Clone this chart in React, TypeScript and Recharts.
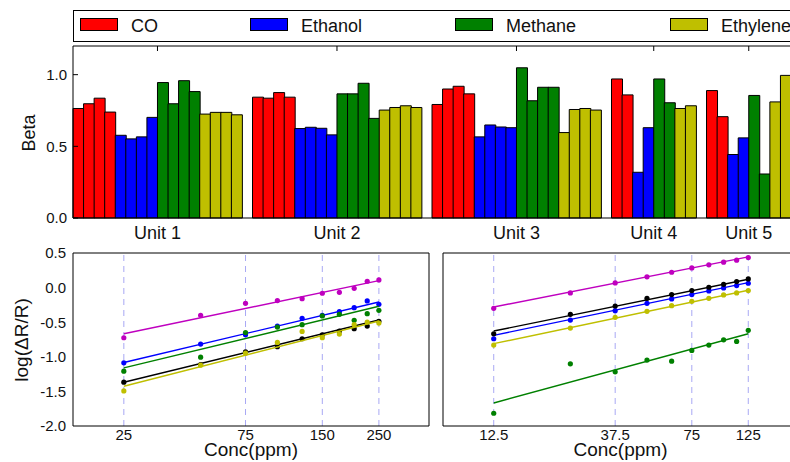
import React from 'react';
import { BarChart, Bar, Cell, XAxis, YAxis, ReferenceLine, ScatterChart, Scatter } from 'recharts';

const FONT = '"Liberation Sans", Arial, sans-serif';

const gases = ['CO', 'Ethanol', 'Methane', 'Ethylene'];
const gasColors = ['#ff0000', '#0000ff', '#008000', '#bfbf00'];
const units = ['Unit 1', 'Unit 2', 'Unit 3', 'Unit 4', 'Unit 5'];

// beta values, one inner list per unit
const betaCO = [[0.764, 0.797, 0.836, 0.739], [0.843, 0.836, 0.875, 0.843], [0.792, 0.9, 0.919, 0.866], [0.97, 0.859], [0.889, 0.707]];
const betaEthanol = [[0.577, 0.552, 0.566, 0.702], [0.624, 0.633, 0.626, 0.58], [0.566, 0.649, 0.635, 0.63], [0.319, 0.63], [0.443, 0.559]];
const betaMethane = [[0.945, 0.797, 0.958, 0.882], [0.866, 0.866, 0.94, 0.695], [1.048, 0.818, 0.912, 0.912], [0.97, 0.804], [0.855, 0.307]];
const betaEthylene = [[0.725, 0.737, 0.737, 0.72], [0.753, 0.771, 0.783, 0.771], [0.596, 0.757, 0.764, 0.753], [0.764, 0.783], [0.81, 0.995]];
const betaTicks = [0, 0.5, 1.0];

// log(dR/R) vs concentration, left panel
const leftConc = [25, 50, 75, 100, 125, 150, 175, 200, 225, 250];
const leftTicks = [25, 75, 150, 250];
const leftMagenta = [-0.725, -0.4, -0.227, -0.188, -0.16, -0.082, -0.068, -0.01, 0.092, 0.111];
const leftBlue = [-1.087, -0.816, -0.68, -0.556, -0.444, -0.4, -0.348, -0.29, -0.193, -0.242];
const leftGreen = [-1.208, -1.005, -0.65, -0.57, -0.536, -0.41, -0.386, -0.473, -0.377, -0.328];
const leftBlack = [-1.367, -1.111, -0.928, -0.855, -0.739, -0.681, -0.628, -0.594, -0.556, -0.488];
const leftYellow = [-1.493, -1.121, -0.947, -0.792, -0.633, -0.725, -0.671, -0.536, -0.498, -0.512];
const leftFitMagenta = [-0.667, 0.1];
const leftFitBlue = [-1.082, -0.208];
const leftFitGreen = [-1.16, -0.27];
const leftFitBlack = [-1.367, -0.469];
const leftFitYellow = [-1.425, -0.483];

// right panel
const rightConc = [12.5, 25, 37.5, 50, 62.5, 75, 87.5, 100, 112.5, 125];
const rightTicks = [12.5, 37.5, 75, 125];
const rightMagenta = [-0.3, -0.077, 0.068, 0.155, 0.222, 0.285, 0.329, 0.367, 0.396, 0.435];
const rightBlack = [-0.667, -0.386, -0.266, -0.155, -0.101, -0.043, 0.005, 0.048, 0.087, 0.126];
const rightBlue = [-0.739, -0.469, -0.333, -0.227, -0.164, -0.101, -0.048, -0.005, 0.029, 0.063];
const rightYellow = [-0.831, -0.585, -0.43, -0.343, -0.261, -0.198, -0.155, -0.106, -0.077, -0.043];
const rightGreen = [-1.816, -1.101, -1.217, -1.048, -1.063, -0.908, -0.831, -0.754, -0.778, -0.618];
const rightFitMagenta = [-0.28, 0.444];
const rightFitBlack = [-0.628, 0.121];
const rightFitBlue = [-0.69, 0.072];
const rightFitYellow = [-0.81, -0.039];
const rightFitGreen = [-1.667, -0.667];

const logTicks = [-2, -1.5, -1, -0.5, 0, 0.5];

// build bar slots (one empty slot between units)
const gasBeta = [betaCO, betaEthanol, betaMethane, betaEthylene];
const slots: { id: string; beta: number | null; fill: string }[] = [];
const unitTickIds: string[] = [];
const unitLabels: Record<string, string> = {};
units.forEach((u, ui) => {
  if (ui > 0) slots.push({ id: `gap${ui}`, beta: null, fill: 'none' });
  const first = slots.length;
  gasBeta.forEach((g, gi) =>
    g[ui].forEach((v, k) => slots.push({ id: `${ui}-${gi}-${k}`, beta: v, fill: gasColors[gi] }))
  );
  const mid = slots[first + (slots.length - first) / 2].id;
  unitTickIds.push(mid);
  unitLabels[mid] = u;
});

const BAR_PLOT_H = 172;

const UnitTick = (props: any) => {
  const { x, y, payload } = props;
  const bx = x - (payload.offset || 5.28);
  return (
    <g>
      <line x1={bx} x2={bx} y1={y - BAR_PLOT_H} y2={y - BAR_PLOT_H + 5} stroke="#000" />
      <text x={bx} y={y + 21} textAnchor="middle" fontSize={18} fontFamily={FONT} fill="#111">
        {unitLabels[payload.value]}
      </text>
    </g>
  );
};

const BetaTick = (props: any) => {
  const { x, y, payload } = props;
  return (
    <g>
      <line x1={x} x2={x + 5} y1={y} y2={y} stroke="#000" />
      <text x={x - 6} y={y} dy="0.36em" textAnchor="end" fontSize={15} fontFamily={FONT} fill="#111">
        {Number(payload.value).toFixed(1)}
      </text>
    </g>
  );
};

const LogTick = (props: any) => {
  const { x, y, payload } = props;
  return (
    <text x={x - 7} y={y} dy="0.36em" textAnchor="end" fontSize={15} fontFamily={FONT} fill="#111">
      {Number(payload.value).toFixed(1)}
    </text>
  );
};

const ConcTick = (props: any) => {
  const { x, y, payload } = props;
  return (
    <text x={x} y={y + 14} textAnchor="middle" fontSize={15} fontFamily={FONT} fill="#111">
      {payload.value}
    </text>
  );
};

const dotShape = (color: string) => (p: any) => <circle cx={p.cx} cy={p.cy} r={2.6} fill={color} />;
const noShape = () => <g />;

type Series = { color: string; values: number[]; fit: number[] };

const leftSeries: Series[] = [
  { color: '#bf00bf', values: leftMagenta, fit: leftFitMagenta },
  { color: '#0000ff', values: leftBlue, fit: leftFitBlue },
  { color: '#008000', values: leftGreen, fit: leftFitGreen },
  { color: '#000000', values: leftBlack, fit: leftFitBlack },
  { color: '#bfbf00', values: leftYellow, fit: leftFitYellow },
];

const rightSeries: Series[] = [
  { color: '#bf00bf', values: rightMagenta, fit: rightFitMagenta },
  { color: '#008000', values: rightGreen, fit: rightFitGreen },
  { color: '#bfbf00', values: rightYellow, fit: rightFitYellow },
  { color: '#0000ff', values: rightBlue, fit: rightFitBlue },
  { color: '#000000', values: rightBlack, fit: rightFitBlack },
];

const DASH = '#a8a8f4';

function renderSeries(series: Series[], conc: number[], prefix: string) {
  const lo = conc[0];
  const hi = conc[conc.length - 1];
  return series.flatMap((s, i) => [
    <Scatter
      key={`${prefix}f${i}`}
      data={[{ x: lo, y: s.fit[0] }, { x: hi, y: s.fit[1] }]}
      line={{ stroke: s.color, strokeWidth: 1.4 }}
      shape={noShape}
      isAnimationActive={false}
    />,
    <Scatter
      key={`${prefix}p${i}`}
      data={conc.map((c, k) => ({ x: c, y: s.values[k] }))}
      shape={dotShape(s.color)}
      isAnimationActive={false}
    />,
  ]);
}

const legendX = [80, 250, 455, 670];

export default function App() {
  return (
    <div style={{ position: 'absolute', left: 0, top: 0, width: 790, height: 462, overflow: 'hidden', background: '#fff', fontFamily: FONT, color: '#111' }}>
      {/* top bar chart */}
      <div style={{ position: 'absolute', left: 0, top: 0 }}>
        <BarChart width={830} height={250} data={slots} margin={{ top: 46, right: 39, bottom: 0, left: 0 }} barCategoryGap={0} barGap={0}>
          <XAxis dataKey="id" ticks={unitTickIds} interval={0} tick={<UnitTick />} tickLine={false} tickSize={0} tickMargin={0} height={32} axisLine={{ stroke: '#000' }} />
          <YAxis domain={[0, 1.2]} ticks={betaTicks} tick={<BetaTick />} tickLine={false} tickSize={0} tickMargin={0} width={73} axisLine={{ stroke: '#000' }} />
          <ReferenceLine y={1.2} stroke="#000" />
          <Bar dataKey="beta" stroke="#000" strokeWidth={1} isAnimationActive={false}>
            {slots.map((s) => (
              <Cell key={s.id} fill={s.fill} />
            ))}
          </Bar>
        </BarChart>
      </div>

      {/* legend */}
      <div style={{ position: 'absolute', left: 73, top: 10, width: 760, height: 32, border: '1px solid #000', boxSizing: 'border-box' }}>
        {gases.map((g, i) => (
          <React.Fragment key={g}>
            <div style={{ position: 'absolute', left: legendX[i] - 74, top: 7, width: 38, height: 13, background: gasColors[i], border: '1px solid #000', boxSizing: 'border-box' }} />
            <div style={{ position: 'absolute', left: legendX[i] - 74 + 51, top: 4, fontSize: 18, lineHeight: '22px', whiteSpace: 'nowrap' }}>{g}</div>
          </React.Fragment>
        ))}
      </div>

      <div style={{ position: 'absolute', left: 29, top: 133, transform: 'translate(-50%, -50%) rotate(-90deg)', fontSize: 18, whiteSpace: 'nowrap' }}>Beta</div>
      <div style={{ position: 'absolute', left: 22, top: 340, transform: 'translate(-50%, -50%) rotate(-90deg)', fontSize: 19, whiteSpace: 'nowrap' }}>log(ΔR/R)</div>

      {/* bottom left */}
      <div style={{ position: 'absolute', left: 0, top: 240 }}>
        <ScatterChart width={440} height={222} margin={{ top: 13, right: 11, bottom: 0, left: 0 }}>
          <XAxis type="number" dataKey="x" scale="log" domain={[15.8, 393]} allowDataOverflow ticks={leftTicks} interval={0} tick={<ConcTick />} tickLine={false} tickSize={0} tickMargin={0} height={36} axisLine={{ stroke: '#000' }}
            label={{ value: 'Conc(ppm)', position: 'insideBottom', offset: 6, fontSize: 19, fontFamily: FONT, fill: '#111' }} />
          <YAxis type="number" dataKey="y" domain={[-2, 0.5]} allowDataOverflow ticks={logTicks} interval={0} tick={<LogTick />} tickLine={false} tickSize={0} tickMargin={0} width={73} axisLine={{ stroke: '#000' }} />
          <ReferenceLine y={0.5} stroke="#000" />
          <ReferenceLine x={393} stroke="#000" />
          {leftTicks.map((t) => (
            <ReferenceLine key={`v${t}`} x={t} stroke={DASH} strokeDasharray="6 5" />
          ))}
          {renderSeries(leftSeries, leftConc, 'l')}
        </ScatterChart>
      </div>

      {/* bottom right */}
      <div style={{ position: 'absolute', left: 430, top: 240 }}>
        <ScatterChart width={380} height={222} margin={{ top: 13, right: 12, bottom: 0, left: 0 }}>
          <XAxis type="number" dataKey="x" scale="log" domain={[7.9, 196]} allowDataOverflow ticks={rightTicks} interval={0} tick={<ConcTick />} tickLine={false} tickSize={0} tickMargin={0} height={36} axisLine={{ stroke: '#000' }}
            label={{ value: 'Conc(ppm)', position: 'insideBottom', offset: 6, fontSize: 19, fontFamily: FONT, fill: '#111' }} />
          <YAxis type="number" dataKey="y" domain={[-2, 0.5]} allowDataOverflow ticks={logTicks} tick={false} tickLine={false} width={13} axisLine={{ stroke: '#000' }} />
          <ReferenceLine y={0.5} stroke="#000" />
          {rightTicks.map((t) => (
            <ReferenceLine key={`v${t}`} x={t} stroke={DASH} strokeDasharray="6 5" />
          ))}
          {renderSeries(rightSeries, rightConc, 'r')}
        </ScatterChart>
      </div>
    </div>
  );
}
